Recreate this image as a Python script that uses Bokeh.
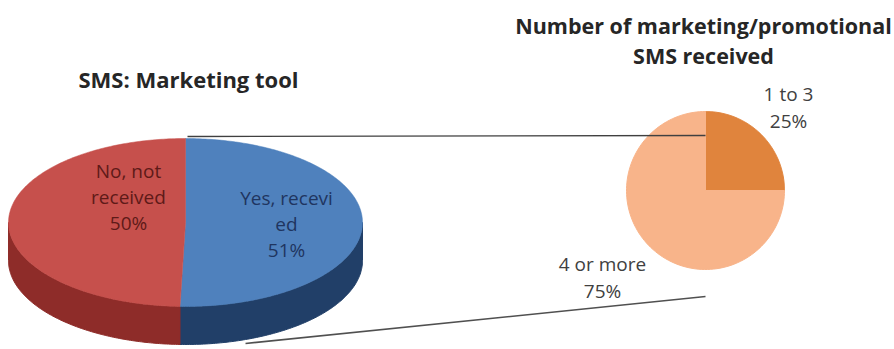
import numpy as np
from bokeh.plotting import figure
from bokeh.models import Range1d
from bokeh.core.properties import value
from bokeh.embed import file_html
from bokeh.resources import INLINE

# ---------------- data ----------------
left_title = "SMS: Marketing tool"
left_categories = ["Yes, received", "No, not received"]
left_values = [51, 50]
left_labels = ["Yes, recevi\ned\n51%", "No, not\nreceived\n50%"]

right_title = "Number of marketing/promotional\nSMS received"
right_categories = ["1 to 3", "4 or more"]
right_values = [25, 75]
right_labels = ["1 to 3\n25%", "4 or more\n75%"]

# ---------------- styles / layout ----------------
left_face_colors = ["#4F81BD", "#C6504C"]
left_side_colors = ["#213F68", "#8E2C29"]
left_text_colors = ["#1F3560", "#5E1A18"]
right_colors = ["#E0843D", "#F8B48A"]
right_text_color = "#404040"
FONT = "Open Sans"

W, H = 894, 349
# left 3D pie geometry (screen-like coords, y grows downward)
LCX, LCY, LA, LB, LT = 185, 222, 177, 84, 38
# right pie geometry
RCX, RCY, RR = 705, 190, 79

left_label_pos = [(286, 197), (128, 170)]
right_label_pos = [(788, 93), (602, 263)]
LINE_STEP_L = 26
LINE_STEP_R = 27

p = figure(width=W, height=H, x_range=Range1d(0, W), y_range=Range1d(H, 0),
           output_backend="svg", toolbar_location=None, min_border=0,
           x_axis_type=None, y_axis_type=None)
p.grid.visible = False
p.outline_line_color = None
p.background_fill_color = "white"
p.border_fill_color = "white"


def ell(theta, cx, cy, a, b):
    return cx + a * np.sin(theta), cy - b * np.cos(theta)


# ---------- right pie ----------
tot = sum(right_values)
start = 0.0
rxs, rys = [], []
for v in right_values:
    end = start + 2 * np.pi * v / tot
    th = np.linspace(start, end, 120)
    x, y = ell(th, RCX, RCY, RR, RR)
    rxs.append([RCX] + list(x))
    rys.append([RCY] + list(y))
    start = end
p.patches(rxs, rys, fill_color=right_colors, line_color=right_colors, line_width=1)

# ---------- connector lines ----------
top_line = ([LCX + 2, RCX], [LCY - LB - 2, RCY - 55])
bot_line = ([LCX + 60, RCX], [LCY + LB + LT - 1, RCY + 106])
p.line(top_line[0], top_line[1], line_color="#404040", line_width=1.4)
p.line(bot_line[0], bot_line[1], line_color="#505050", line_width=1.6)

# ---------- left 3D pie ----------
tot = sum(left_values)
start = 0.0
side_x, side_y, face_x, face_y = [], [], [], []
for v in left_values:
    end = start + 2 * np.pi * v / tot
    s = max(start, np.pi / 2)
    e = min(end, 3 * np.pi / 2)
    if e > s:
        th = np.linspace(s, e, 120)
        x, y = ell(th, LCX, LCY, LA, LB)
        side_x.append(list(x) + list(x[::-1]))
        side_y.append(list(y) + list((y + LT)[::-1]))
    else:
        side_x.append([])
        side_y.append([])
    th = np.linspace(start, end, 200)
    x, y = ell(th, LCX, LCY, LA, LB)
    face_x.append([LCX] + list(x))
    face_y.append([LCY] + list(y))
    start = end

p.patches(side_x, side_y, fill_color=left_side_colors, line_color=left_side_colors, line_width=1)
p.patches(face_x, face_y, fill_color=left_face_colors, line_color=left_face_colors, line_width=0.5)

# ---------- texts ----------
def add_lines(label, pos, step, color, size, bold=False):
    lines = label.split("\n")
    xs = [pos[0]] * len(lines)
    ys = [pos[1] + i * step for i in range(len(lines))]
    p.text(xs, ys, text=lines, text_align="center", text_baseline="middle",
           text_font=value(FONT), text_font_size=size, text_color=color,
           text_font_style="bold" if bold else "normal")

for lab, pos, col in zip(left_labels, left_label_pos, left_text_colors):
    add_lines(lab, pos, LINE_STEP_L, col, "19px")
for lab, pos in zip(right_labels, right_label_pos):
    add_lines(lab, pos, LINE_STEP_R, right_text_color, "19px")

add_lines(left_title, (188, 78), 30, "#262626", "22px", bold=True)
add_lines(right_title, (703, 25), 30, "#262626", "21.5px", bold=True)

open("out.html", "w").write(file_html(p, INLINE))
